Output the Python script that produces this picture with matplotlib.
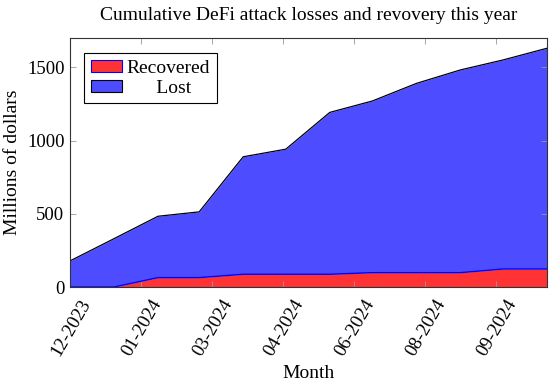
import matplotlib
matplotlib.use('Agg')
import matplotlib.pyplot as plt
import matplotlib.dates as mdates
import matplotlib.transforms as mtransforms
from matplotlib.patches import Patch
import pandas as pd

months = pd.date_range('2023-12-01', periods=12, freq='MS')
total = [178, 330, 483, 513, 889, 941, 1192, 1270, 1390, 1482, 1550, 1630]
recovered = [0, 0, 64, 64, 87, 87, 87, 98, 98, 98, 123, 123]
tick_dates = pd.date_range('2023-12-01', periods=7, freq='50D')

plt.rcParams['font.family'] = 'Liberation Serif'
plt.rcParams['font.size'] = 13.5

red = '#ff3333'
blue = '#4d4dff'

fig = plt.figure(figsize=(5.5, 3.84), dpi=100)
ax = fig.add_axes([70/550, 97/384, 477/550, 249/384])

ax.fill_between(months, 0, recovered, color=red, linewidth=0)
ax.plot(months, recovered, color='blue', linewidth=1)
ax.fill_between(months, recovered, total, color=blue, linewidth=0)
ax.plot(months, total, color='black', linewidth=0.9)

ax.set_xlim(months[0], months[-1])
ax.set_ylim(0, 1700)
ax.set_yticks([0, 500, 1000, 1500])
ax.set_xticks(tick_dates)
ax.xaxis.set_major_formatter(mdates.DateFormatter('%m-%Y'))

ax.tick_params(direction='in', length=4, width=0.6, color='#999999',
               top=True, right=True, pad=4, labelsize=13.5)
for s in ax.spines.values():
    s.set_color('#333333')
    s.set_linewidth(0.8)
    s.set_zorder(5)

# pgfplots-style rotated labels sit a little right of their tick
shift = mtransforms.ScaledTranslation(9/100, -4/100, fig.dpi_scale_trans)
for lbl in ax.get_xticklabels():
    lbl.set_rotation(60)
    lbl.set_ha('right')
    lbl.set_rotation_mode('anchor')
    lbl.set_transform(lbl.get_transform() + shift)

ax.set_xlabel('Month', labelpad=4, fontsize=14)
ax.set_ylabel('Millions of dollars', labelpad=4, fontsize=14)
ax.set_title('Cumulative DeFi attack losses and revovery this year', pad=13, fontsize=14)

handles = [Patch(facecolor=red, edgecolor='blue', linewidth=0.8),
           Patch(facecolor=blue, edgecolor='black', linewidth=0.8)]
leg = ax.legend(handles, ['Recovered', '      Lost'], loc='upper left',
                bbox_to_anchor=(0.029, 0.94), fancybox=False, framealpha=1,
                edgecolor='black', handlelength=1.6, handleheight=0.55,
                borderaxespad=0, handletextpad=0.25, labelspacing=0.15,
                borderpad=0.35, fontsize=14)
leg.get_frame().set_linewidth(0.8)

fig.savefig('out.png', dpi=100)
